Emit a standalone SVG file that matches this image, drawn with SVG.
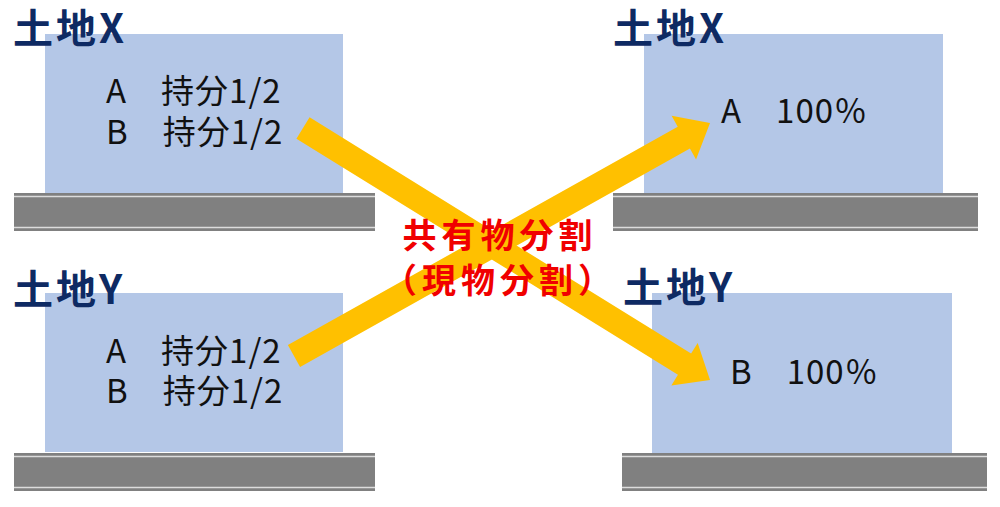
<svg xmlns="http://www.w3.org/2000/svg" width="1000" height="507" viewBox="0 0 1000 507">
<style>
.box{fill:#b4c7e7}
.bar{fill:#808080}
.barline{stroke:#dcdcdc;stroke-width:1.5}
.title{font-family:"Noto Sans CJK JP","Noto Sans",sans-serif;font-weight:bold;font-size:40px;fill:#0e2a63;letter-spacing:3px}
.txt{font-family:"Noto Sans CJK JP","Noto Sans",sans-serif;font-size:33px;fill:#111;letter-spacing:1px}
.center{font-family:"Noto Sans CJK JP",sans-serif;font-weight:bold;font-size:34px;fill:#f00000;letter-spacing:5px}
.arrow{fill:#ffc000}
</style>
<rect width="1000" height="507" fill="#fff"/>
<g id="landX-before">
<rect class="box" x="45" y="34" width="298" height="159"/>
<rect class="bar" x="14" y="193" width="361" height="38"/>
<line class="barline" x1="14" y1="196.5" x2="375" y2="196.5"/>
<line class="barline" x1="14" y1="227.5" x2="375" y2="227.5"/>
<text class="title" x="13" y="43">土地X</text>
<text class="txt" x="106" y="103">A　持分1/2</text>
<text class="txt" x="106" y="144">B　持分1/2</text>
</g>
<g id="landY-before">
<rect class="box" x="45" y="293" width="298" height="159"/>
<rect class="bar" x="14" y="453" width="361" height="38"/>
<line class="barline" x1="14" y1="456.5" x2="375" y2="456.5"/>
<line class="barline" x1="14" y1="487.5" x2="375" y2="487.5"/>
<text class="title" x="13" y="304">土地Y</text>
<text class="txt" x="106" y="363">A　持分1/2</text>
<text class="txt" x="106" y="403">B　持分1/2</text>
</g>
<g id="landX-after">
<rect class="box" x="644" y="34" width="299" height="159"/>
<rect class="bar" x="613" y="193" width="365" height="38"/>
<line class="barline" x1="613" y1="196.5" x2="978" y2="196.5"/>
<line class="barline" x1="613" y1="227.5" x2="978" y2="227.5"/>
<text class="title" x="613" y="43">土地X</text>
<text class="txt" x="721" y="123">A　100％</text>
</g>
<g id="landY-after">
<rect class="box" x="652" y="293" width="300" height="160"/>
<rect class="bar" x="622" y="453" width="365" height="38"/>
<line class="barline" x1="622" y1="456.5" x2="987" y2="456.5"/>
<line class="barline" x1="622" y1="487.5" x2="987" y2="487.5"/>
<text class="title" x="623" y="302">土地Y</text>
<text class="txt" x="730" y="384">B　100％</text>
</g>
<g id="connectors">
<polygon class="arrow" transform="translate(303,128) rotate(31.76)" points="0,-12.5 448.7,-12.5 448.7,-25 478.7,0 448.7,25 448.7,12.5 0,12.5"/>
<polygon class="arrow" transform="translate(294,356) rotate(-29.25)" points="0,-12.5 446.8,-12.5 446.8,-25 476.8,0 446.8,25 446.8,12.5 0,12.5"/>
</g>
<g id="label">
<text class="center" x="500" y="248" text-anchor="middle">共有物分割</text>
<text class="center" x="500" y="293" text-anchor="middle">（現物分割）</text>
</g>
</svg>
